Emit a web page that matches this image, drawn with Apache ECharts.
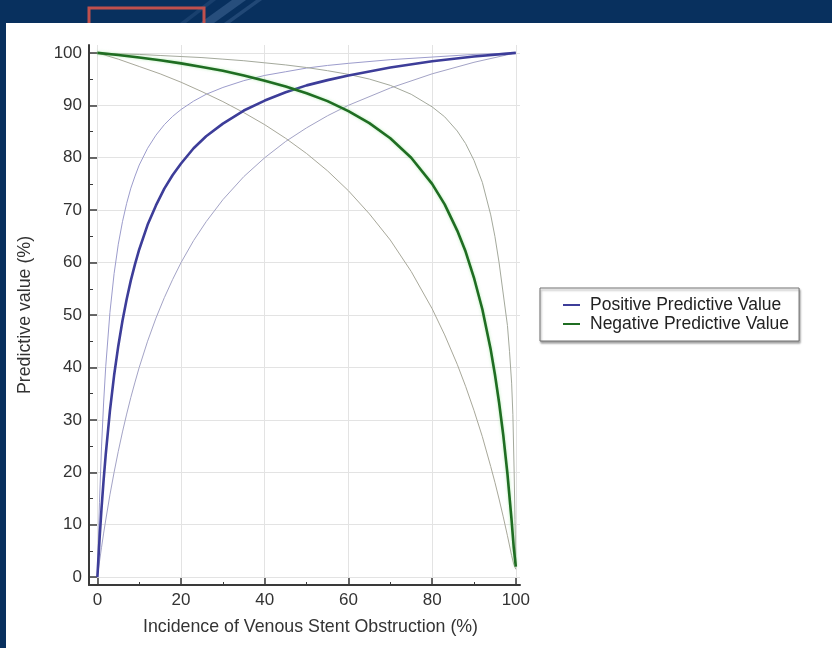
<!DOCTYPE html>
<html><head><meta charset="utf-8">
<script src="https://cdn.jsdelivr.net/npm/echarts@6/dist/echarts.min.js"></script>
<style>html,body{margin:0;padding:0;background:#08305e}#c{width:832px;height:648px}</style>
</head><body><div id="c"></div>
<script>
// ---- data ----
const xTickLabels = [0, 20, 40, 60, 80, 100];
const xMinorTicks = [10, 30, 50, 70, 90];
const yTickLabels = [0, 10, 20, 30, 40, 50, 60, 70, 80, 90, 100];
const yMinorTicks = [5, 15, 25, 35, 45, 55, 65, 75, 85, 95];

const ppvX     = [0, 0.5, 1, 1.5, 2, 3, 4, 5, 6, 7, 8, 9, 10, 12, 14, 16, 18, 20, 23, 26, 30, 35, 40, 45, 50, 55, 60, 70, 80, 90, 100];
const ppvMid   = [0, 7.0, 13.2, 18.6, 23.4, 31.7, 38.5, 44.1, 48.9, 53.0, 56.6, 59.7, 62.5, 67.2, 70.9, 74.1, 76.7, 78.9, 81.8, 84.1, 86.5, 89.0, 90.9, 92.5, 93.8, 94.8, 95.7, 97.2, 98.4, 99.3, 100];
const ppvUpper = [0, 14.2, 25.0, 33.4, 40.2, 50.5, 57.9, 63.5, 67.8, 71.3, 74.2, 76.5, 78.6, 81.8, 84.3, 86.3, 87.9, 89.2, 90.8, 92.1, 93.4, 94.7, 95.7, 96.4, 97.1, 97.6, 98.0, 98.7, 99.2, 99.7, 100];
const ppvLower = [0, 2.9, 5.7, 8.4, 10.9, 15.7, 20.0, 24.0, 27.7, 31.1, 34.3, 37.2, 40.0, 45.0, 49.4, 53.3, 56.8, 60.0, 64.2, 67.8, 72.0, 76.4, 80.0, 83.1, 85.7, 88.0, 90.0, 93.3, 96.0, 98.2, 100];

const npvX     = [0, 5, 10, 15, 20, 25, 30, 35, 40, 45, 50, 55, 60, 65, 70, 75, 80, 83, 86, 88, 90, 92, 94, 95, 96, 97, 98, 99, 99.5, 100];
const npvMid   = [100, 99.6, 99.1, 98.6, 98.0, 97.3, 96.6, 95.7, 94.7, 93.6, 92.3, 90.8, 88.9, 86.6, 83.7, 80.0, 75.0, 71.1, 66.1, 62.1, 57.1, 51.1, 43.4, 38.7, 33.3, 27.1, 19.7, 10.8, 5.7, 2];
const npvLower = [100, 98.8, 97.4, 96.0, 94.4, 92.6, 90.7, 88.6, 86.3, 83.7, 80.8, 77.5, 73.7, 69.3, 64.3, 58.3, 51.2, 46.2, 40.6, 36.4, 31.8, 26.8, 21.1, 18.1, 14.9, 11.5, 7.9, 4.1, 2.5, 1.5];
const npvUpX   = [0, 5, 10, 15, 20, 25, 30, 35, 40, 45, 50, 55, 60, 65, 70, 75, 80, 83, 86, 88, 90, 92, 94, 95, 96, 97, 98, 98.5, 99, 99.3, 99.6, 99.8, 100];
const npvUpper = [100, 99.8, 99.7, 99.5, 99.3, 99.1, 98.8, 98.5, 98.1, 97.7, 97.2, 96.6, 95.9, 95.0, 93.8, 92.1, 89.7, 87.8, 85.1, 82.7, 79.5, 75.3, 69.1, 65, 60, 54, 48, 43, 37, 31, 20, 11, 2];

const legendNames = ['Positive Predictive Value', 'Negative Predictive Value'];
const xTitle = 'Incidence of Venous Stent Obstruction (%)';
const yTitle = 'Predictive value (%)';

// ---- build ----
const zip = (xs, ys) => xs.map((x, i) => [x, ys[i]]);
const font = '"Liberation Sans", Arial, sans-serif';
const axisCol = '#3a3a3a';
const gridCol = '#e3e3e3';

function line(name, data, color, width, z, extra) {
  return Object.assign({
    type: 'line', name: name, data: data, showSymbol: false, symbol: 'none',
    smooth: false, z: z, color: color,
    lineStyle: { color: color, width: width, join: 'round' }, emphasis: { disabled: true }, silent: true
  }, extra || {});
}

const chart = echarts.init(document.getElementById('c'));
chart.setOption({
  animation: false,
  backgroundColor: '#08305e',
  graphic: [
    { type: 'polygon', z: -3, shape: { points: [[232, 0], [246, 0], [214, 23], [200, 23]] }, style: { fill: 'rgba(150,185,230,0.22)' } },
    { type: 'polygon', z: -3, shape: { points: [[256, 0], [262, 0], [230, 23], [224, 23]] }, style: { fill: 'rgba(150,185,230,0.18)' } },
    { type: 'polygon', z: -3, shape: { points: [[210, 0], [216, 0], [186, 23], [180, 23]] }, style: { fill: 'rgba(150,185,230,0.12)' } },
    { type: 'rect', z: -2, shape: { x: 89, y: 8, width: 115, height: 30 }, style: { fill: 'none', stroke: '#c0504d', lineWidth: 3 } },
    { type: 'rect', z: -1, shape: { x: 6, y: 23, width: 826, height: 625 }, style: { fill: '#ffffff' } }
  ],
  grid: { left: 89, right: 312, top: 45, bottom: 63 },
  legend: {
    left: 540, top: 288, orient: 'vertical', data: legendNames,
    backgroundColor: '#ffffff', borderColor: '#707070', borderWidth: 1,
    shadowColor: 'rgba(0,0,0,0.35)', shadowBlur: 2, shadowOffsetX: 1, shadowOffsetY: 2,
    padding: [8, 10, 8, 23], itemGap: 1, itemWidth: 17, itemHeight: 2, icon: 'rect',
    selectedMode: false,
    textStyle: { fontSize: 17.5, color: '#222', fontFamily: font, padding: [0, 0, 0, 5] }
  },
  xAxis: [
    {
      type: 'value', min: -2, max: 101, position: 'bottom',
      axisLine: { show: true, onZero: false, lineStyle: { color: axisCol, width: 2 } },
      axisTick: { show: true, inside: true, length: 7, customValues: xTickLabels, lineStyle: { color: axisCol, width: 1.5 } },
      axisLabel: { customValues: xTickLabels, margin: 7, fontSize: 17, color: '#333', fontFamily: font },
      splitLine: { show: true, lineStyle: { color: gridCol, width: 1 } },
      name: xTitle, nameLocation: 'middle', nameGap: 33,
      nameTextStyle: { fontSize: 17.8, color: '#333', fontFamily: font, padding: [0, 0, 0, 12] }
    },
    {
      type: 'value', min: -2, max: 101, position: 'bottom',
      axisLine: { show: false, onZero: false },
      axisTick: { show: true, inside: true, length: 3, customValues: xMinorTicks, lineStyle: { color: axisCol, width: 1 } },
      axisLabel: { show: false }, splitLine: { show: false }
    }
  ],
  yAxis: [
    {
      type: 'value', min: -1.5, max: 101.5, position: 'left',
      axisLine: { show: true, onZero: false, lineStyle: { color: axisCol, width: 2 } },
      axisTick: { show: true, inside: true, length: 8, customValues: yTickLabels, lineStyle: { color: axisCol, width: 1.5 } },
      axisLabel: { customValues: yTickLabels, margin: 7, fontSize: 17, color: '#333', fontFamily: font },
      splitLine: { show: true, lineStyle: { color: gridCol, width: 1 } },
      name: yTitle, nameLocation: 'middle', nameGap: 55, nameRotate: 90,
      nameTextStyle: { fontSize: 17.8, color: '#333', fontFamily: font }
    },
    {
      type: 'value', min: -1.5, max: 101.5, position: 'left',
      axisLine: { show: false, onZero: false },
      axisTick: { show: true, inside: true, length: 4, customValues: yMinorTicks, lineStyle: { color: axisCol, width: 1 } },
      axisLabel: { show: false }, splitLine: { show: false }
    }
  ],
  series: [
    line('ppvU', zip(ppvX, ppvUpper), '#9c9ccc', 1, 3),
    line('ppvL', zip(ppvX, ppvLower), '#a3a3c6', 1, 3),
    line('npvU', zip(npvUpX, npvUpper), '#a4a99c', 1, 3),
    line('npvL', zip(npvX, npvLower), '#a8a89a', 1, 3),
    line(legendNames[0], zip(ppvX, ppvMid), '#3d3d99', 2.6, 5),
    line(legendNames[1], zip(npvX, npvMid), '#1f6d22', 2.6, 5,
      { lineStyle: { color: '#1f6d22', width: 2.6, join: 'round', shadowColor: 'rgba(110,220,110,0.5)', shadowBlur: 3 } })
  ]
});
</script></body></html>
